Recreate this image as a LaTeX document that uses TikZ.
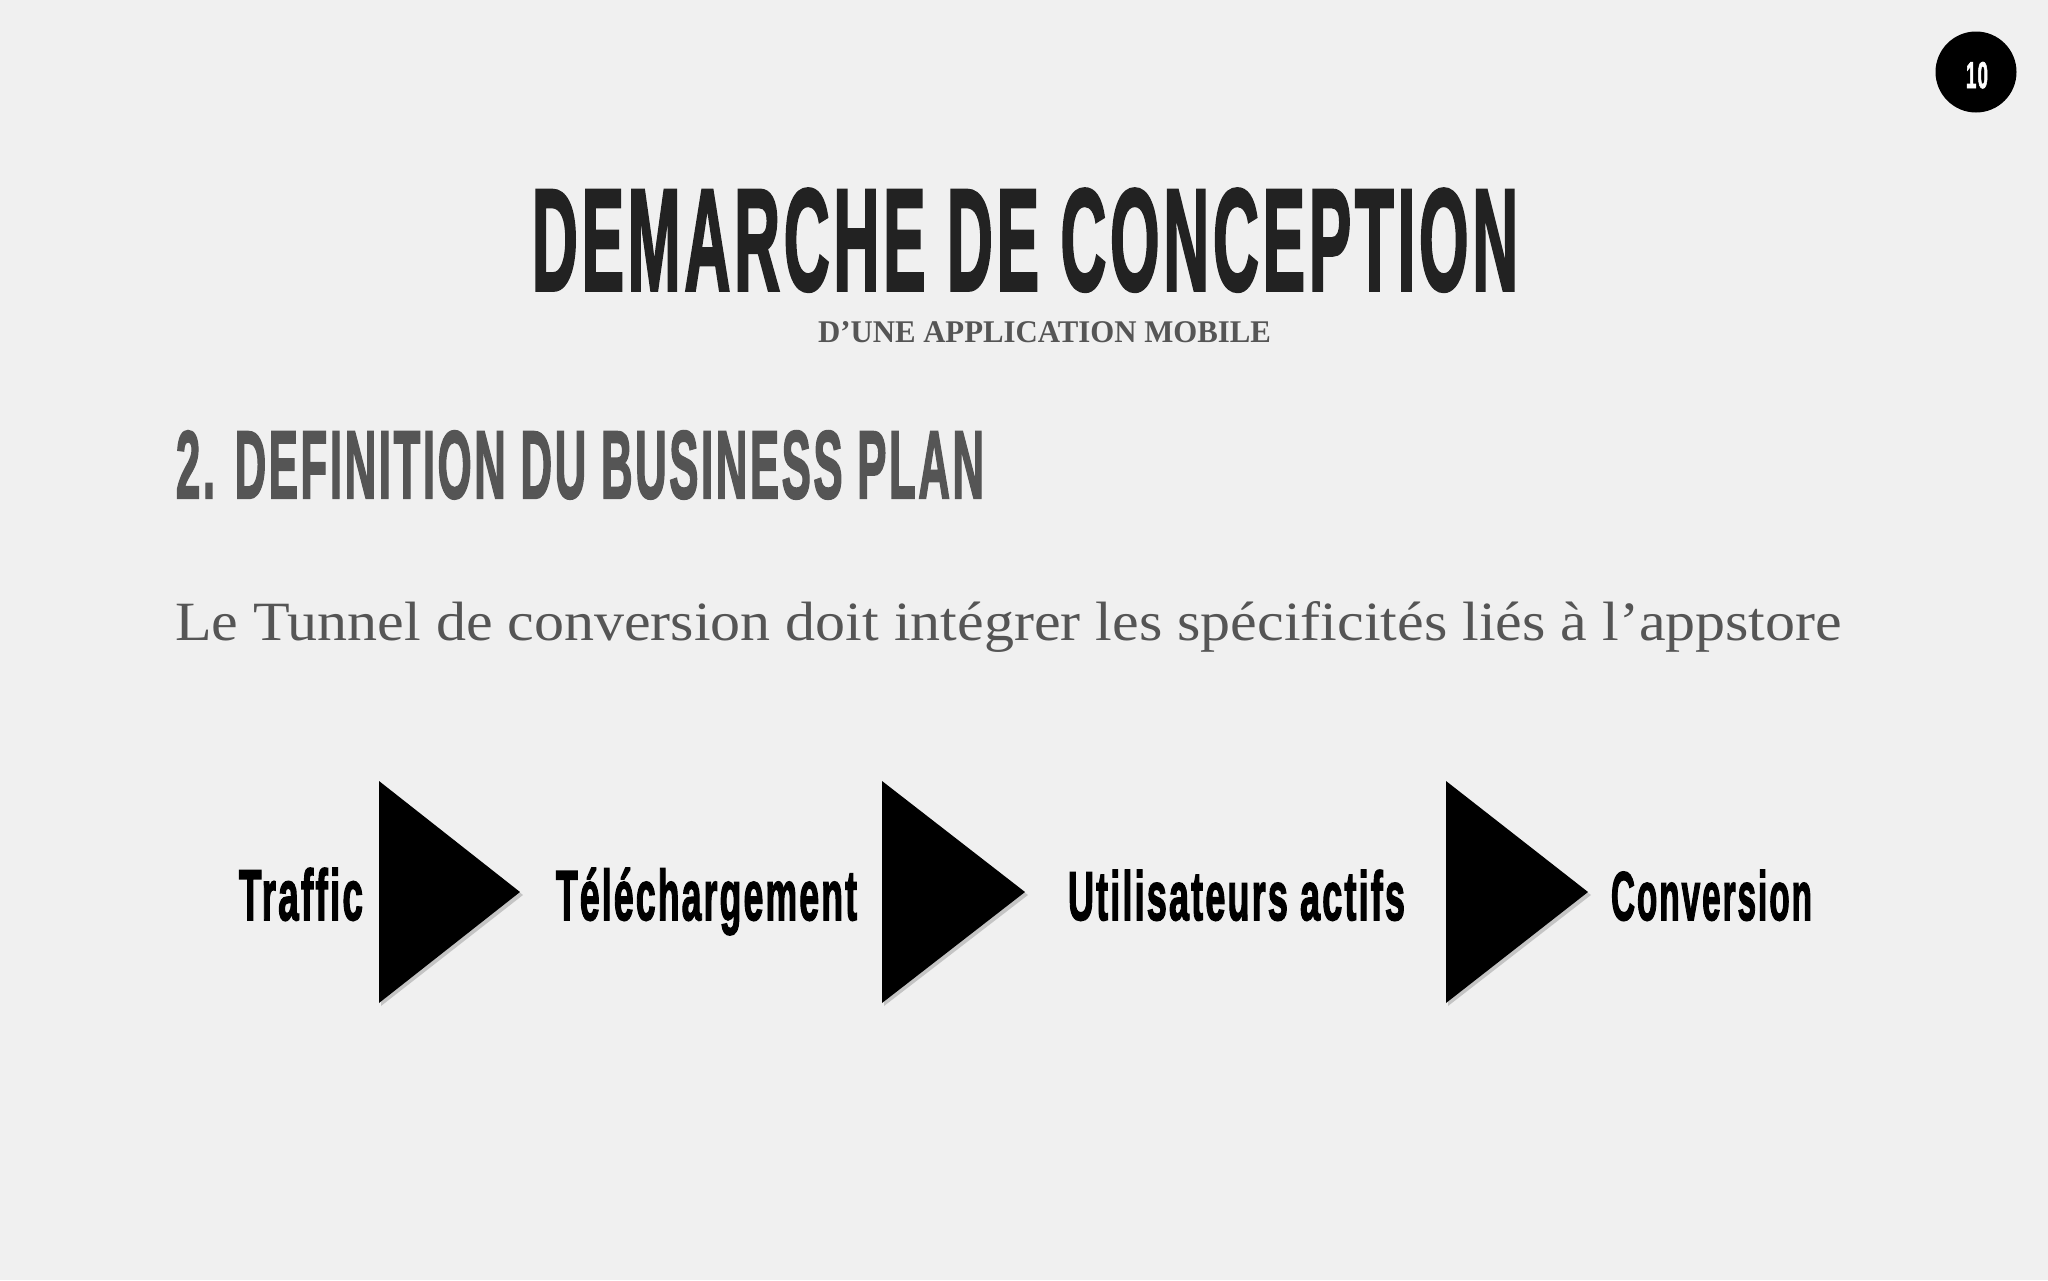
\documentclass[tikz,border=0pt]{standalone}
\usepackage{fontspec}
\usepackage{graphicx}
\setmainfont{Liberation Serif}
\newfontfamily\condfont[FakeBold=2.5,LetterSpace=6]{Liberation Sans Bold}
\newfontfamily\serifbold{Liberation Serif Bold}
\definecolor{paper}{HTML}{F0F0F0}
\definecolor{titlec}{HTML}{222222}
\definecolor{headc}{HTML}{555555}
\newcommand\fitto[3]{\resizebox{#1pt}{#2pt}{#3}}
\tikzset{
  txt/.style={inner sep=0pt, outer sep=0pt, anchor=base west},
  tri/.style={fill=black},
  trishadow/.style={fill=black, opacity=0.18},
}
\begin{document}
\begin{tikzpicture}[x=1pt,y=-1pt]
\fill[paper] (0,0) rectangle (2048,1280);
\useasboundingbox (0,0) rectangle (2048,1280);
% page number
\fill[black] (1976,72) circle (40.5);
\node[txt, text=white] (pnum) at (1966,88) {\fitto{22}{26}{\condfont 10}};
% titles
\node[txt, text=titlec] (title) at (532,290) {\fitto{986}{101}{\condfont DEMARCHE DE CONCEPTION}};
\node[txt, text=headc] (subtitle) at (818,342) {\fitto{453}{21}{\serifbold D’UNE APPLICATION MOBILE}};
\node[txt, text=headc] (heading) at (176,498) {\fitto{808}{67}{\condfont 2. DEFINITION DU BUSINESS PLAN}};
\node[txt, text=headc] (body) at (175,640) {\fitto{1667}{39}{Le Tunnel de conversion doit intégrer les spécificités liés à l’appstore}};
% funnel labels
\node[txt] (traffic) at (239,920) {\fitto{124}{52}{\condfont Traffic}};
\node[txt] (telech) at (556,920) {\fitto{301}{52}{\condfont Téléchargement}};
\node[txt] (users) at (1068,920) {\fitto{337}{50}{\condfont Utilisateurs actifs}};
\node[txt] (conv) at (1611,920) {\fitto{201}{50}{\condfont Conversion}};
% triangles
\foreach \l/\a in {379/520, 882/1025, 1446/1588}{
  \fill[trishadow] (\l+2,784) -- (\l+2,1006) -- (\a+3,895) -- cycle;
  \fill[tri] (\l,781) -- (\l,1003) -- (\a,892) -- cycle;
}
\end{tikzpicture}
\end{document}
